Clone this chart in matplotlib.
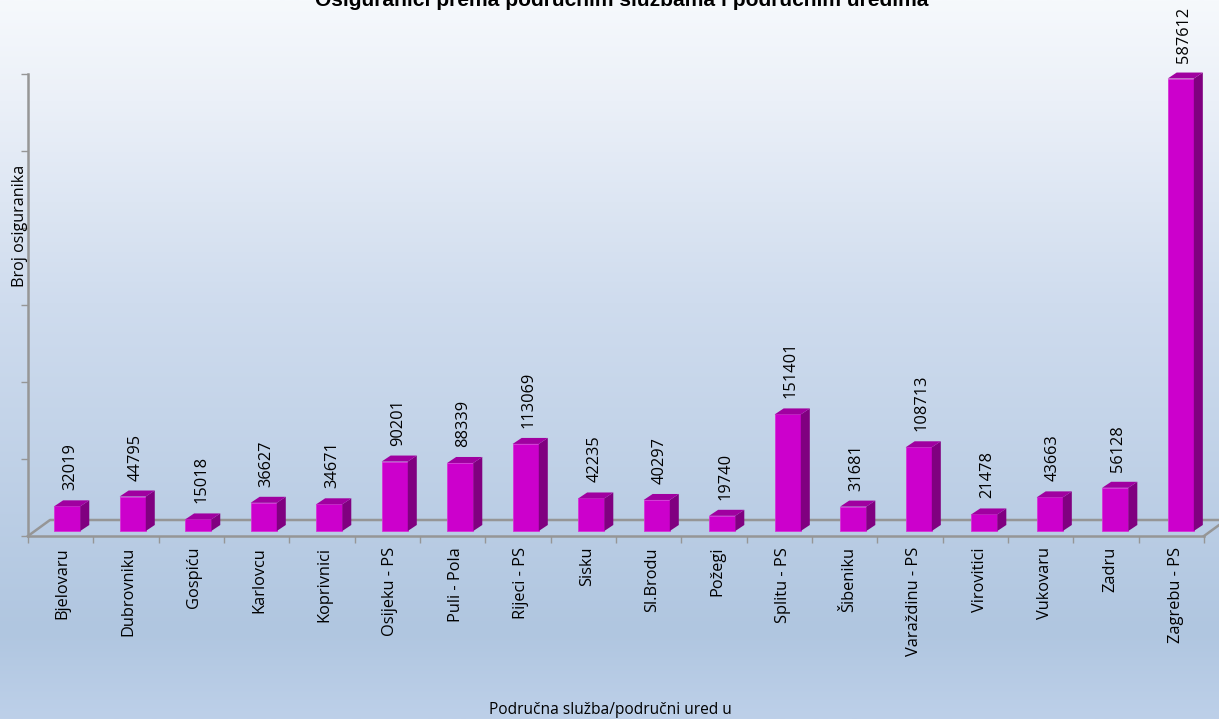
import matplotlib
matplotlib.use('Agg')
import matplotlib.pyplot as plt
from matplotlib.colors import LinearSegmentedColormap
from matplotlib.patches import Polygon
import numpy as np

W, H = 1219, 719

places = ['Bjelovaru', 'Dubrovniku', 'Gospiću', 'Karlovcu', 'Koprivnici', 'Osijeku - PS',
          'Puli - Pola', 'Rijeci - PS', 'Sisku', 'Sl.Brodu', 'Požegi', 'Splitu - PS',
          'Šibeniku', 'Varaždinu - PS', 'Virovitici', 'Vukovaru', 'Zadru', 'Zagrebu - PS']
insured = [32019, 44795, 15018, 36627, 34671, 90201, 88339, 113069, 42235, 40297, 19740,
           151401, 31681, 108713, 21478, 43663, 56128, 587612]
y_ticks = [0, 100000, 200000, 300000, 400000, 500000, 600000]

fig = plt.figure(figsize=(W / 100, H / 100), dpi=100)

# background gradient
bg = fig.add_axes([0, 0, 1, 1], zorder=0)
cmap = LinearSegmentedColormap.from_list('bg', [(0, '#f6f9fc'), (0.14, '#ebf0f8'), (0.42, '#cfdcee'),
                                                (0.88, '#b0c6e0'), (1, '#bdd0e9')])
bg.imshow(np.linspace(0, 1, 256).reshape(-1, 1), aspect='auto', cmap=cmap, extent=[0, 1, 0, 1])
bg.axis('off')

# axes box = front floor edge to top of the wall
ax = fig.add_axes([28 / W, 1 - 536 / H, 1176 / W, 462 / H], zorder=1)
ax.patch.set_alpha(0)
ax.set_xlim(-0.5, 17.5)
ax.set_ylim(0, 600000)

grey = '#969696'
for s in ['top', 'right']:
    ax.spines[s].set_visible(False)
ax.spines['left'].set_color(grey)
ax.spines['left'].set_linewidth(1.8)
ax.spines['bottom'].set_color(grey)
ax.spines['bottom'].set_linewidth(1.8)

ax.set_yticks(y_ticks)
ax.set_yticklabels([])
ax.set_xticks(np.arange(19) - 0.5)
ax.set_xticklabels([])
ax.tick_params(axis='both', color=grey, width=1, length=5)

# floor, seen in perspective
px_y = 600000 / 462
floor_dy = 16 * px_y
ax.plot([-0.5, -0.5 + 22 / 65.33, 17.5 + 22 / 65.33, 17.5], [0, floor_dy, floor_dy, 0],
        color=grey, lw=1.8, clip_on=False, zorder=2)

# bars with fake depth
x = np.arange(len(places)) * 1.0026 + 0.1
base = 5 * px_y
width = 0.4
dx = 9 / 65.33
dy = 6 * px_y
ax.bar(x, insured, width, bottom=base, color='#cc00cc', edgecolor='#d633d6', linewidth=0.6, zorder=3)
for xi, v, name in zip(x, insured, places):
    left, right, top = xi - width / 2, xi + width / 2, base + v
    ax.add_patch(Polygon([(right, base), (right + dx, base + dy), (right + dx, top + dy), (right, top)],
                         facecolor='#800080', edgecolor='none', zorder=3, clip_on=False))
    ax.add_patch(Polygon([(left, top), (left + dx, top + dy), (right + dx, top + dy), (right, top)],
                         facecolor='#a000a0', edgecolor='none', zorder=3, clip_on=False))
    ax.annotate(str(v), (xi, top), xytext=(3, 16), textcoords='offset pixels', rotation=90,
                ha='center', va='bottom', fontsize=11.8, family='Open Sans', color='black',
                annotation_clip=False, zorder=4)
    ax.annotate(name, (xi - 0.07, 0), xytext=(0, -11), textcoords='offset pixels',
                rotation=90, ha='center', va='top', fontsize=11.8, family='Open Sans', color='black',
                annotation_clip=False)

fig.text(622 / W, 1 - 1 / H, 'Osiguranici prema područnim službama i područnim uredima', ha='center',
         va='center', fontsize=15.1, fontweight='bold', family='Liberation Sans')
fig.text(610 / W, 1 - 710 / H, 'Područna služba/područni ured u', ha='center', va='center', fontsize=11.2,
         family='Open Sans')
fig.text(20 / W, 1 - 226 / H, 'Broj osiguranika', ha='center', va='center', rotation=90, fontsize=11.6,
         family='Open Sans')

fig.savefig('out.png', dpi=100)
